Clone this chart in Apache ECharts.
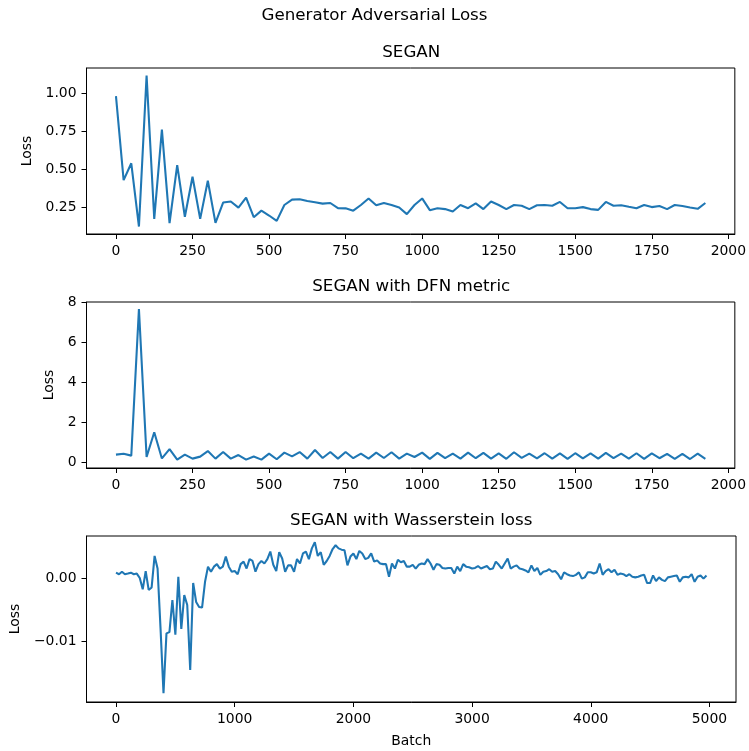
<!DOCTYPE html>
<html>
<head>
<meta charset="utf-8">
<script src="https://cdn.jsdelivr.net/npm/echarts@6/dist/echarts.min.js"></script>
<style>
  html, body { margin: 0; padding: 0; background: #fff; }
  #main { width: 749px; height: 751px; }
</style>
</head>
<body>
<div id="main"></div>
<script>
// batch spacing between logged points
var batchStep = 25;

// SEGAN adversarial loss
var seganLoss = [0.98, 0.43, 0.54, 0.126, 1.115, 0.176, 0.76, 0.148, 0.528, 0.19,
	0.452, 0.176, 0.426, 0.15, 0.283, 0.29, 0.25, 0.315, 0.187, 0.23,
	0.198, 0.163, 0.267, 0.302, 0.304, 0.293, 0.285, 0.276, 0.28, 0.246,
	0.245, 0.23, 0.267, 0.309, 0.265, 0.28, 0.267, 0.25, 0.207, 0.267,
	0.31, 0.233, 0.246, 0.24, 0.224, 0.267, 0.246, 0.278, 0.24, 0.29,
	0.267, 0.24, 0.267, 0.262, 0.24, 0.265, 0.267, 0.262, 0.287, 0.246,
	0.246, 0.253, 0.24, 0.235, 0.287, 0.262, 0.265, 0.255, 0.246, 0.267,
	0.253, 0.26, 0.24, 0.267, 0.26, 0.25, 0.242, 0.28];

// SEGAN with DFN metric
var dfnLoss = [0.38, 0.42, 0.33, 7.68, 0.26, 1.5, 0.19, 0.66, 0.13, 0.38,
	0.18, 0.28, 0.56, 0.18, 0.51, 0.18, 0.36, 0.13, 0.29, 0.13,
	0.43, 0.15, 0.48, 0.29, 0.51, 0.18, 0.61, 0.21, 0.51, 0.18,
	0.51, 0.2, 0.43, 0.18, 0.48, 0.21, 0.5, 0.18, 0.43, 0.26,
	0.48, 0.17, 0.47, 0.2, 0.43, 0.18, 0.48, 0.2, 0.47, 0.18,
	0.44, 0.17, 0.5, 0.22, 0.43, 0.19, 0.45, 0.18, 0.44, 0.17,
	0.45, 0.19, 0.44, 0.18, 0.47, 0.2, 0.43, 0.18, 0.45, 0.17,
	0.44, 0.2, 0.42, 0.17, 0.42, 0.16, 0.43, 0.17];

// SEGAN with Wasserstein loss
var wganLoss = [0.00085, 0.0006, 0.001, 0.0006, 0.0007, 0.00085, 0.0006, 0.0007, 0.0, -0.0018,
	0.0011, -0.0019, -0.0015, 0.0035, 0.0015, -0.008, -0.0183, -0.0088, -0.0086, -0.0035,
	-0.009, 0.0002, -0.0081, -0.0027, -0.0043, -0.0146, -0.0008, -0.0038, -0.0046, -0.0047,
	-0.0006, 0.0018, 0.001, 0.0018, 0.0022, 0.0015, 0.0018, 0.0034, 0.0018, 0.001,
	0.0011, 0.0006, 0.0022, 0.0026, 0.0015, 0.003, 0.0027, 0.001, 0.0022, 0.0027,
	0.0023, 0.003, 0.0042, 0.0021, 0.0011, 0.0041, 0.0031, 0.001, 0.002, 0.002,
	0.001, 0.003, 0.0023, 0.0039, 0.0042, 0.003, 0.0047, 0.0057, 0.0035, 0.0041,
	0.0021, 0.0027, 0.0035, 0.0046, 0.0052, 0.0047, 0.0045, 0.0044, 0.002, 0.0034,
	0.0039, 0.003, 0.0043, 0.0039, 0.003, 0.0032, 0.0039, 0.0026, 0.0028, 0.0023,
	0.0022, 0.0022, 0.0002, 0.0023, 0.0015, 0.0029, 0.0025, 0.0027, 0.0018, 0.0018,
	0.0021, 0.0015, 0.0021, 0.0023, 0.0022, 0.003, 0.0023, 0.0013, 0.0022, 0.0021,
	0.0016, 0.0015, 0.0016, 0.0016, 0.0007, 0.0018, 0.0011, 0.0022, 0.0018, 0.0017,
	0.0015, 0.0016, 0.0019, 0.0015, 0.0017, 0.0019, 0.0014, 0.0015, 0.0026, 0.0021,
	0.0015, 0.0023, 0.0031, 0.0015, 0.0018, 0.002, 0.0015, 0.0014, 0.0012, 0.0009,
	0.002, 0.0011, 0.0016, 0.0005, 0.001, 0.0011, 0.0014, 0.001, 0.0011, 0.0006,
	-0.0002, 0.0009, 0.0006, 0.0004, 0.0003, 0.0005, 0.0009, -0.0001, 0.0001, 0.0009,
	0.0009, 0.0007, 0.0009, 0.0023, 0.0005, 0.0011, 0.0014, 0.0009, 0.0013, 0.0005,
	0.0007, 0.0006, 0.0003, 0.0006, 0.0002, 0.0001, 0.0002, 0.0004, 0.0005, -0.0008,
	-0.0008, 0.0004, -0.0005, 0.0001, -0.0003, -0.0005, 0.0001, 0.0002, 0.0003, 0.0004,
	-0.0006, 0.0001, 0.0002, 0.0001, 0.0006, -0.0006, 0.0002, 0.0004, -0.0001, 0.0004];

// tick labels
var xTicksShort = [0, 250, 500, 750, 1000, 1250, 1500, 1750, 2000];
var xTicksLong = [0, 1000, 2000, 3000, 4000, 5000];
var yTicksSegan = [0.25, 0.5, 0.75, 1.0];
var yTicksDfn = [0, 2, 4, 6, 8];
var yTicksWgan = [-0.01, 0.0];

var titles = ['SEGAN', 'SEGAN with DFN metric', 'SEGAN with Wasserstein loss'];

function toPairs(arr) {
	var out = [];
	for (var i = 0; i < arr.length; i++) {
		out.push([i * batchStep, arr[i]]);
	}
	return out;
}

function mplMinus(s) {
	return s.replace('-', '\u2212');
}

var FONT = 'DejaVu Sans';
var BLUE = '#1f77b4';
var plotLeft = 86.5, plotWidth = 649.5, plotHeight = 166;
var plotTops = [68, 302, 536];

function xAxisFor(idx, min, max, ticks, name) {
	return {
		gridIndex : idx,
		type : 'value',
		min : min,
		max : max,
		name : name || '',
		nameLocation : 'middle',
		nameGap : 32,
		nameTextStyle : { color : '#000', fontSize : 13.9, fontFamily : FONT },
		splitLine : { show : false },
		axisLine : { show : true, onZero : false, lineStyle : { color : '#000', width : 1 } },
		axisTick : { show : true, length : 5, customValues : ticks, lineStyle : { color : '#000', width : 1 } },
		axisLabel : { customValues : ticks, color : '#000', fontSize : 13.9, fontFamily : FONT, margin : 10,
			formatter : function(v) { return String(v); } }
	};
}

function yAxisFor(idx, min, max, ticks, gap, fmt) {
	return {
		gridIndex : idx,
		type : 'value',
		min : min,
		max : max,
		name : 'Loss',
		nameLocation : 'middle',
		nameRotate : 90,
		nameGap : gap,
		nameTextStyle : { color : '#000', fontSize : 13.9, fontFamily : FONT },
		splitLine : { show : false },
		axisLine : { show : true, onZero : false, lineStyle : { color : '#000', width : 1 } },
		axisTick : { show : true, length : 5, customValues : ticks, lineStyle : { color : '#000', width : 1 } },
		axisLabel : { customValues : ticks, color : '#000', fontSize : 13.9, fontFamily : FONT, margin : 10, formatter : fmt }
	};
}

var grids = [];
var titleList = [ {
	text : 'Generator Adversarial Loss',
	left : 374.5,
	top : 7,
	textAlign : 'center',
	padding : 0,
	textStyle : { color : '#000', fontSize : 16.7, fontWeight : 'normal', fontFamily : FONT }
} ];
for (var g = 0; g < 3; g++) {
	grids.push({
		left : plotLeft,
		top : plotTops[g],
		width : plotWidth,
		height : plotHeight,
		show : true,
		borderColor : '#000',
		borderWidth : 1,
		backgroundColor : 'transparent'
	});
	titleList.push({
		text : titles[g],
		left : plotLeft + plotWidth / 2,
		top : plotTops[g] - 24,
		textAlign : 'center',
		padding : 0,
		textStyle : { color : '#000', fontSize : 16.7, fontWeight : 'normal', fontFamily : FONT }
	});
}

var myChart = echarts.init(document.getElementById('main'), null, { renderer : 'canvas' });

var option = {
	animation : false,
	backgroundColor : '#fff',
	title : titleList,
	grid : grids,
	xAxis : [
		xAxisFor(0, -96.25, 2021.25, xTicksShort),
		xAxisFor(1, -96.25, 2021.25, xTicksShort),
		xAxisFor(2, -248.75, 5223.75, xTicksLong, 'Batch')
	],
	yAxis : [
		yAxisFor(0, 0.077, 1.164, yTicksSegan, 51, function(v) { return v.toFixed(2); }),
		yAxisFor(1, -0.29, 8.03, yTicksDfn, 27, function(v) { return String(v); }),
		yAxisFor(2, -0.0197, 0.00667, yTicksWgan, 64, function(v) { return mplMinus(v.toFixed(2)); })
	],
	series : [ {
		name : titles[0],
		type : 'line',
		xAxisIndex : 0,
		yAxisIndex : 0,
		data : toPairs(seganLoss),
		showSymbol : false,
		lineStyle : { color : BLUE, width : 2.08 }
	}, {
		name : titles[1],
		type : 'line',
		xAxisIndex : 1,
		yAxisIndex : 1,
		data : toPairs(dfnLoss),
		showSymbol : false,
		lineStyle : { color : BLUE, width : 2.08 }
	}, {
		name : titles[2],
		type : 'line',
		xAxisIndex : 2,
		yAxisIndex : 2,
		data : toPairs(wganLoss),
		showSymbol : false,
		lineStyle : { color : BLUE, width : 2.08 }
	} ]
};

myChart.setOption(option);
</script>
</body>
</html>
